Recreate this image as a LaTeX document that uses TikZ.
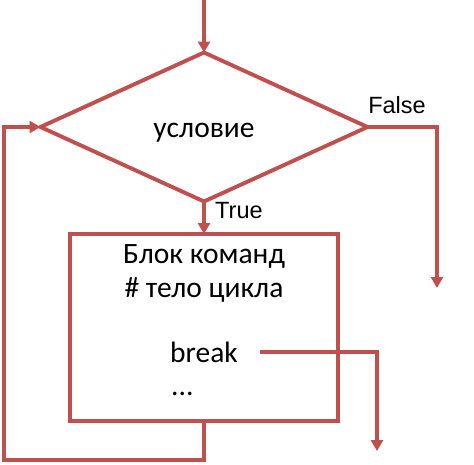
\documentclass[tikz,border=0pt]{standalone}
\usepackage{fontspec}
\setmainfont{Carlito}
\newfontfamily\lblfont{Liberation Sans}
\usetikzlibrary{shapes.geometric,arrows.meta}
\definecolor{flowred}{HTML}{C0504D}
\tikzset{
  flow/.style={draw=flowred, line width=3.9pt},
  arr/.style={flow, -{Triangle[length=11pt,width=12pt]}},
  body/.style={font=\fontsize{29.5}{34}\selectfont, inner sep=0pt},
  lbl/.style={font=\lblfont\fontsize{23.5}{28}\selectfont, inner sep=0pt},
}
\begin{document}
\begin{tikzpicture}[x=1pt,y=-1pt]
\useasboundingbox (0,0) rectangle (474,464);
\node[flow, diamond, minimum width=327pt, minimum height=149pt, inner sep=0pt, outer sep=0pt] (cond) at (204,127) {};
\node[body, anchor=base] (condtxt) at (204,137) {условие};
\node[flow, rectangle, minimum width=268pt, minimum height=187pt, inner sep=0pt, outer sep=0pt] (box) at (204,327.5) {};
\node[body, anchor=base] (t1) at (204,263) {Блок команд};
\node[body, anchor=base] (t2) at (204,297) {\# тело цикла};
\node[body, anchor=base west] (brk) at (170,362) {break};
\node[body, anchor=base west] (dots) at (171,395) {...};
\node[lbl, anchor=base] (flab) at (397,113) {False};
\node[lbl, anchor=base west] (tlab) at (215,218) {True};
\coordinate (start) at (204,0);
\coordinate (falseEnd) at (437,288);
\coordinate (breakEnd) at (377,451);
\coordinate (loopBL) at (4,460);
\draw[arr] (start) -- (cond.north);
\draw[arr] (cond.south) -- (box.north);
\draw[arr] (cond.east) -| (falseEnd);
\draw[arr] ([xshift=22pt]brk.east) -| (breakEnd);
\draw[arr] (box.south) |- (loopBL) |- (cond.west);
\end{tikzpicture}
\end{document}
